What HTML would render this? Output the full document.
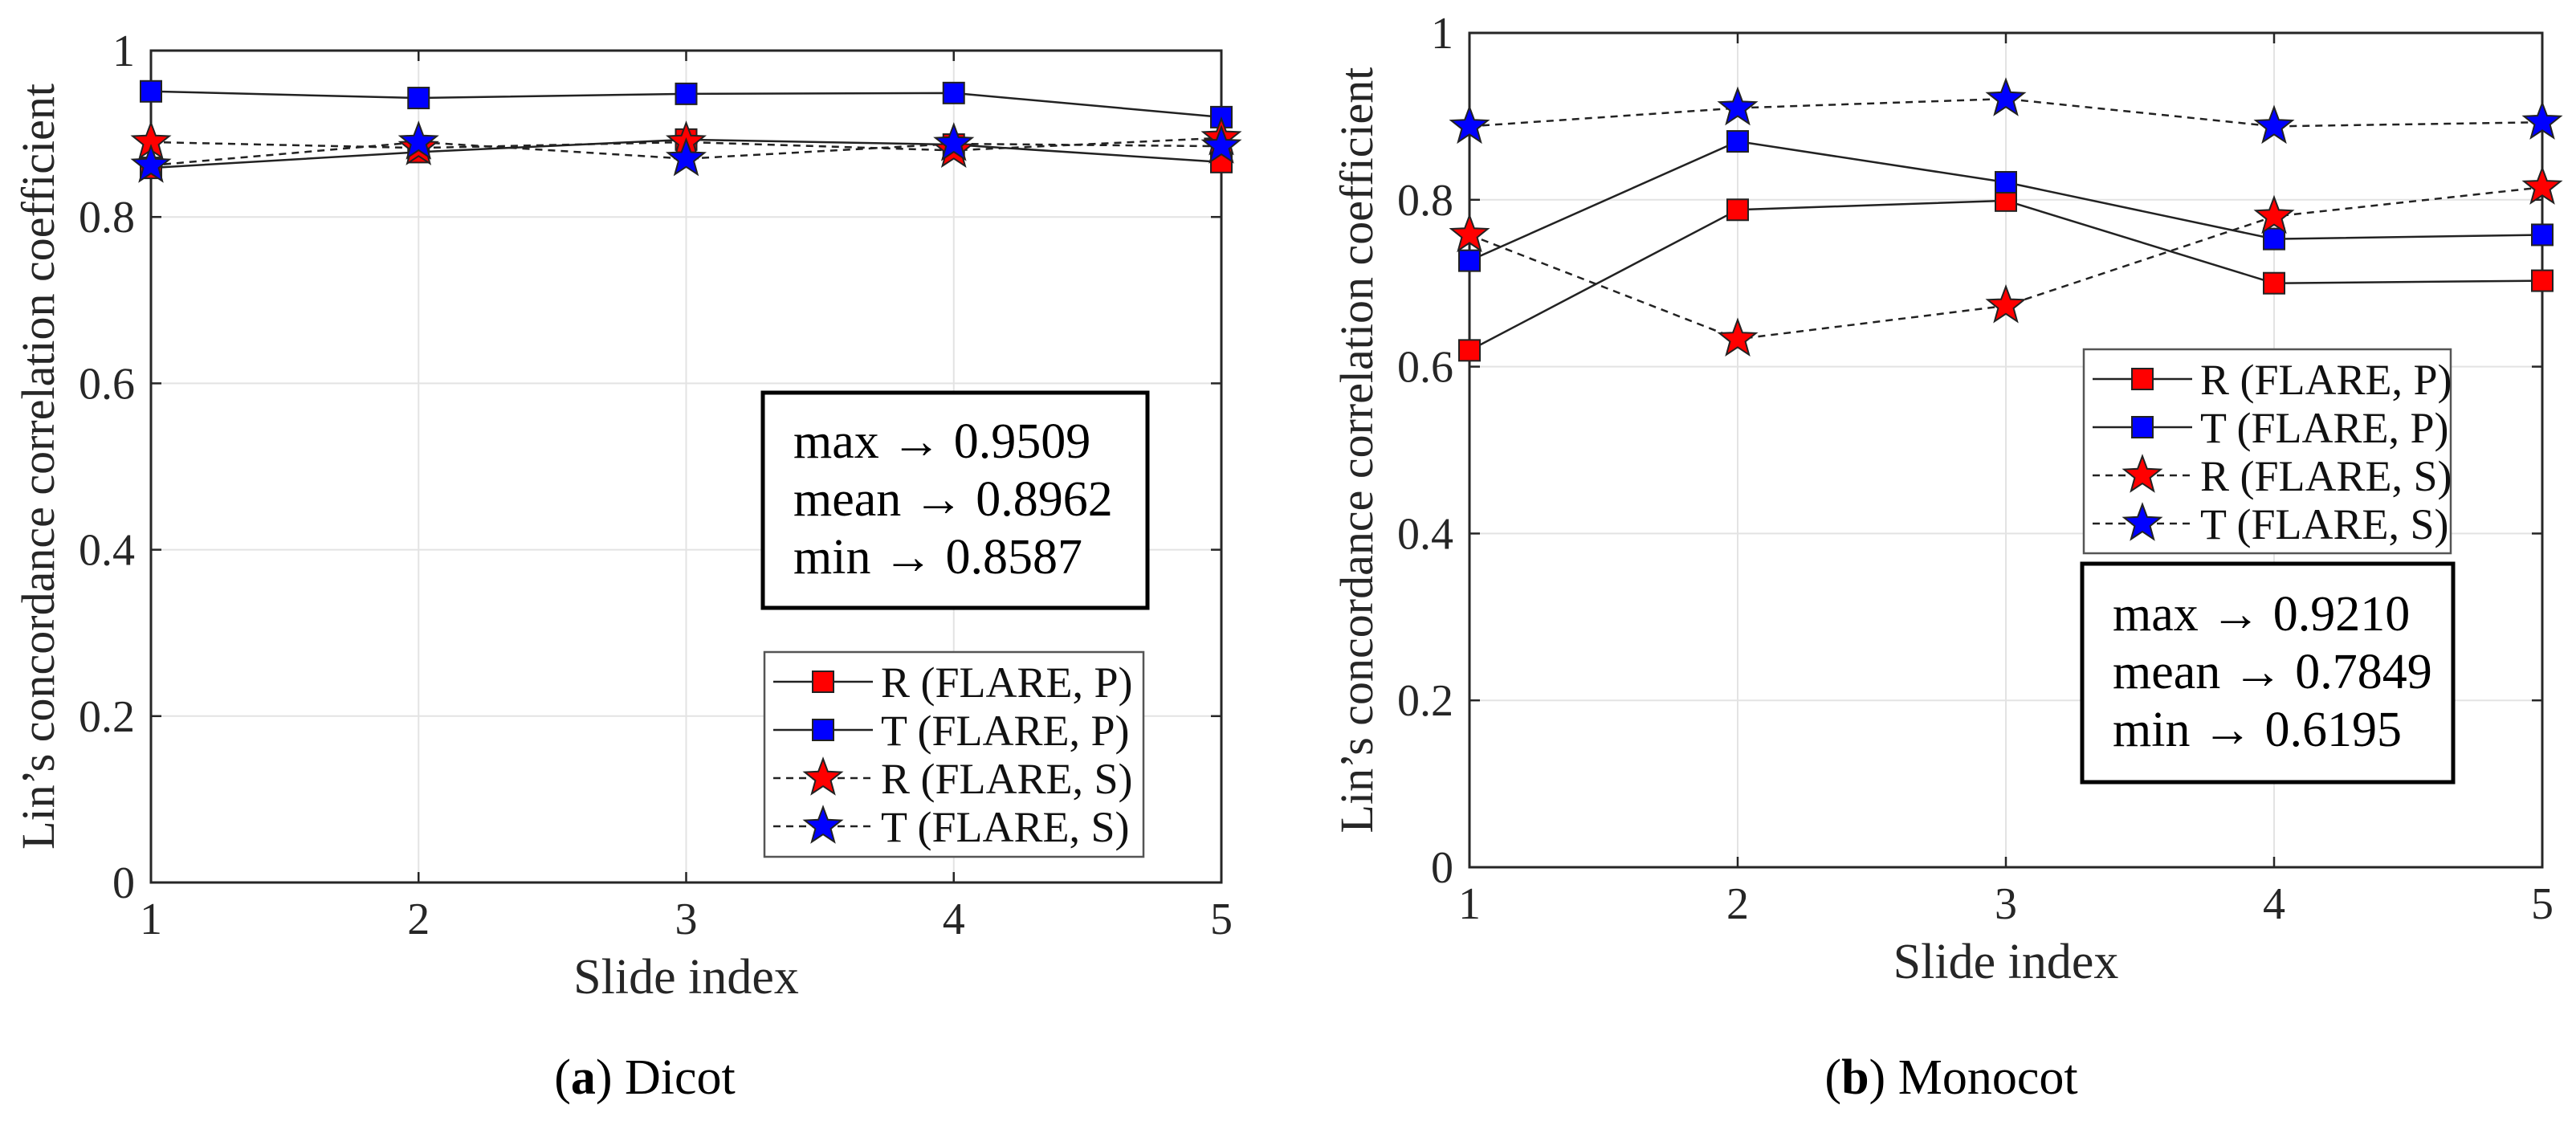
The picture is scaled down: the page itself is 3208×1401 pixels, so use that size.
<!DOCTYPE html>
<html><head><meta charset="utf-8">
<style>
html,body{margin:0;padding:0;background:#fff;}
svg{display:block;font-family:"Liberation Serif",serif;}
</style></head>
<body>
<svg id="fig" width="3208" height="1401" viewBox="0 0 3208 1401" xmlns="http://www.w3.org/2000/svg"></svg>
<script>
const xCategories = [1, 2, 3, 4, 5];
const yTicks = [0, 0.2, 0.4, 0.6, 0.8, 1];
const yTickLabels = ["0", "0.2", "0.4", "0.6", "0.8", "1"];
const seriesNames = ["R (FLARE, P)", "T (FLARE, P)", "R (FLARE, S)", "T (FLARE, S)"];
const dicotRP = [0.859, 0.878, 0.893, 0.887, 0.866];
const dicotTP = [0.951, 0.943, 0.948, 0.949, 0.920];
const dicotRS = [0.890, 0.883, 0.890, 0.880, 0.895];
const dicotTS = [0.862, 0.890, 0.870, 0.888, 0.885];
const monoRP = [0.6195, 0.788, 0.799, 0.700, 0.703];
const monoTP = [0.727, 0.870, 0.821, 0.753, 0.758];
const monoRS = [0.758, 0.633, 0.673, 0.780, 0.815];
const monoTS = [0.888, 0.910, 0.921, 0.888, 0.893];
const dicotStats = ["max \u2192 0.9509", "mean \u2192 0.8962", "min \u2192 0.8587"];
const monoStats = ["max \u2192 0.9210", "mean \u2192 0.7849", "min \u2192 0.6195"];

const NS = "http://www.w3.org/2000/svg";
const fig = document.getElementById("fig");
function mk(tag, attrs, parent) {
  const e = document.createElementNS(NS, tag);
  for (const k in attrs) e.setAttribute(k, attrs[k]);
  (parent || fig).appendChild(e);
  return e;
}
function starPts(cx, cy, R) {
  const r = R * 0.42; let p = [];
  for (let i = 0; i < 10; i++) {
    const a = -Math.PI / 2 + i * Math.PI / 5;
    const rr = i % 2 ? r : R;
    p.push((cx + rr * Math.cos(a)).toFixed(1) + "," + (cy + rr * Math.sin(a)).toFixed(1));
  }
  return p.join(" ");
}
function marker(g, type, color, cx, cy) {
  let m;
  if (type === "sq") {
    m = mk("rect", {x: cx - 13, y: cy - 13, width: 26, height: 26, fill: color, stroke: "#222", "stroke-width": 2}, g);
  } else {
    m = mk("polygon", {points: starPts(cx, cy, 24), fill: color, stroke: "#222", "stroke-width": 2}, g);
  }
  return m;
}

function drawChart(cfg) {
  const g = mk("g", {});
  
  
  const {x0, x1, y0, y1} = cfg;
  const xs = v => x0 + (v - 1) / 4 * (x1 - x0);
  const ys = v => y0 - v * (y0 - y1);
  const grid = mk("g", {stroke: "#e3e3e3", "stroke-width": 2}, g);
  
  
  xCategories.forEach(c => { mk("line", {x1: xs(c), x2: xs(c), y1: y1, y2: y0}, grid); });
  yTicks.forEach(t => { mk("line", {x1: x0, x2: x1, y1: ys(t), y2: ys(t)}, grid); });
  const box = mk("rect", {x: x0, y: y1, width: x1 - x0, height: y0 - y1, fill: "none", stroke: "#262626", "stroke-width": 3}, g);
  
  
  const tk = mk("g", {stroke: "#262626", "stroke-width": 2.5}, g);
  xCategories.forEach(c => {
    mk("line", {x1: xs(c), x2: xs(c), y1: y0, y2: y0 - 13}, tk);
    mk("line", {x1: xs(c), x2: xs(c), y1: y1, y2: y1 + 13}, tk);
    const t = mk("text", {x: xs(c), y: y0 + 64, "text-anchor": "middle", "font-size": 56, fill: "#262626"}, g);
    t.textContent = String(c);
    
    
  });
  yTicks.forEach((v, i) => {
    mk("line", {x1: x0, x2: x0 + 13, y1: ys(v), y2: ys(v)}, tk);
    mk("line", {x1: x1, x2: x1 - 13, y1: ys(v), y2: ys(v)}, tk);
    const t = mk("text", {x: x0 - 20, y: ys(v) + 19, "text-anchor": "end", "font-size": 56, fill: "#262626"}, g);
    t.textContent = yTickLabels[i];
    
    
  });
  const xt = mk("text", {x: (x0 + x1) / 2, y: y0 + 138, "text-anchor": "middle", "font-size": 62, fill: "#262626"}, g);
  xt.textContent = "Slide index";
  
  
  const ym = (y0 + y1) / 2;
  const yt = mk("text", {x: cfg.ylx, y: ym, "text-anchor": "middle", "font-size": 58, fill: "#262626", transform: `rotate(-90 ${cfg.ylx} ${ym})`, dy: 19}, g);
  yt.textContent = "Lin\u2019s concordance correlation coefficient";
  
  
  const series = [
    {d: cfg.rp, c: "#ff0000", m: "sq", dash: null},
    {d: cfg.tp, c: "#0000ff", m: "sq", dash: null},
    {d: cfg.rs, c: "#ff0000", m: "st", dash: "9,7"},
    {d: cfg.ts, c: "#0000ff", m: "st", dash: "9,7"}
  ];
  const lines = mk("g", {}, g);
  series.forEach((s, si) => {
    const attrs = {points: s.d.map((v, i) => xs(xCategories[i]) + "," + ys(v)).join(" "), fill: "none", stroke: "#222", "stroke-width": 2.5};
    if (s.dash) attrs["stroke-dasharray"] = s.dash;
    const pl = mk("polyline", attrs, lines);
    
    
  });
  series.forEach((s, si) => {
    s.d.forEach((v, i) => {
      const m = marker(lines, s.m, s.c, xs(xCategories[i]), ys(v));
      
      
    });
  });
  const L = cfg.leg;
  const lg = mk("g", {}, g);
  
  
  mk("rect", {x: L.x, y: L.y, width: L.w, height: L.h, fill: "#fff", stroke: "#555", "stroke-width": 2.5}, lg);
  series.forEach((s, i) => {
    const ry = L.y + 37 + i * 60;
    const ent = mk("g", {}, lg);
    
    
    const la = {x1: L.x + 11, x2: L.x + 135, y1: ry, y2: ry, stroke: "#222", "stroke-width": 2.5};
    if (s.dash) la["stroke-dasharray"] = "9,7";
    mk("line", la, ent);
    marker(ent, s.m, s.c, L.x + 73, ry);
    const t = mk("text", {x: L.x + 145, y: ry + 19, "font-size": 54, fill: "#111"}, ent);
    t.textContent = seriesNames[i];
  });
  const B = cfg.box;
  const sb = mk("g", {}, g);
  
  
  mk("rect", {x: B.x, y: B.y, width: B.w, height: B.h, fill: "#fff", stroke: "#000", "stroke-width": 5}, sb);
  cfg.stats.forEach((s, i) => {
    const t = mk("text", {x: B.x + 38, y: B.b0 + i * 72, "font-size": 62, fill: "#000"}, sb);
    t.textContent = s;
  });
  const cap = mk("text", {x: cfg.capx, y: 1362, "text-anchor": "middle", "font-size": 62, fill: "#000"}, g);
  
  
  const b1 = mk("tspan", {}, cap); b1.textContent = "(";
  const b2 = mk("tspan", {"font-weight": "bold"}, cap); b2.textContent = cfg.capLetter;
  const b3 = mk("tspan", {}, cap); b3.textContent = ") " + cfg.capText;
}

drawChart({name: "chart-dicot", x0: 188, x1: 1521, y0: 1099, y1: 63, ylx: 48,
  rp: dicotRP, tp: dicotTP, rs: dicotRS, ts: dicotTS, stats: dicotStats,
  leg: {x: 952, y: 812, w: 472, h: 255},
  box: {x: 950, y: 489, w: 479, h: 268, b0: 570},
  capx: 803, capLetter: "a", capText: "Dicot"});
drawChart({name: "chart-monocot", x0: 1830, x1: 3166, y0: 1080, y1: 41, ylx: 1690,
  rp: monoRP, tp: monoTP, rs: monoRS, ts: monoTS, stats: monoStats,
  leg: {x: 2595, y: 435, w: 457, h: 254},
  box: {x: 2593, y: 702, w: 462, h: 272, b0: 785},
  capx: 2430, capLetter: "b", capText: "Monocot"});
</script>
</body></html>
